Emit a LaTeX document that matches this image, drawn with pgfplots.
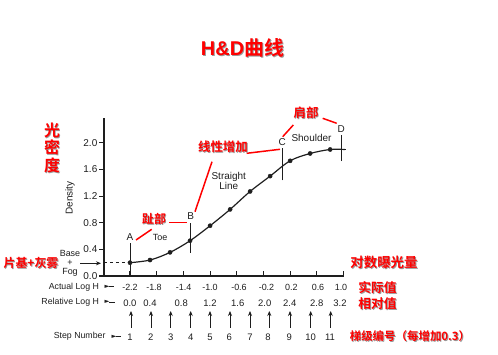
\documentclass[border=0pt]{standalone}
\usepackage{pgfplots}
\pgfplotsset{compat=1.18}
\usepackage{fontspec}
\usetikzlibrary{arrows.meta}
\setmainfont{Liberation Sans}
\newfontfamily\cjk{Noto Sans CJK SC}[BoldFont={Noto Sans CJK SC Bold}]
\newfontfamily\sym{DejaVu Sans}
\definecolor{ink}{HTML}{1E1E1E}
\definecolor{rd}{HTML}{FF0000}
\newcommand{\fs}[1]{\fontsize{#1}{#1}\selectfont}
% red label with soft shadow: #1 = position, #2 = size, #3 = text
\newcommand{\rl}[3]{%
  \node[font=\cjk\bfseries\fs{#2}, text=black!40, xshift=0.9bp, yshift=-1.1bp, inner sep=0pt] at #1 {#3};
  \node[font=\cjk\bfseries\fs{#2}, text=rd, inner sep=0pt] at #1 {#3};}
\begin{document}
\begin{tikzpicture}
\useasboundingbox (0,0) rectangle (498bp,355bp);
\begin{axis}[
  at={(104bp,79bp)}, anchor=south west,
  scale only axis, width=239.5bp, height=157.8bp,
  xmin=-0.39, xmax=3.2, ymin=0, ymax=2.37,
  axis lines=left,
  axis line style={ink, line width=1.4pt, -},
  clip=false,
  xtick={0,0.4,0.8,1.2,1.6,2.0,2.4,2.8,3.2},
  xticklabels={},
  xtick align=inside,
  ytick={0,0.4,0.8,1.2,1.6,2.0},
  ytick align=outside,
  major tick length=5bp,
  tick style={ink, line width=1.1pt},
  /pgf/number format/assume math mode=true,
  yticklabel style={font=\fs{10}, text=ink, /pgf/number format/fixed, /pgf/number format/fixed zerofill, /pgf/number format/precision=1, inner sep=1.5bp},
]
% H&D curve
\addplot[ink, line width=1.2pt, smooth, tension=0.55] coordinates {
  (0,0.20) (0.3,0.24) (0.6,0.355) (0.9,0.53) (1.2,0.755) (1.5,1.00)
  (1.8,1.27) (2.1,1.50) (2.4,1.73) (2.7,1.84) (3.0,1.90) (3.22,1.90)};
\addplot[only marks, mark=*, mark size=2.1bp, ink] coordinates {
  (0,0.20) (0.3,0.24) (0.6,0.355) (0.9,0.53) (1.2,0.755) (1.5,1.00)
  (1.8,1.27) (2.1,1.50) (2.4,1.73) (2.7,1.84) (3.0,1.90)};
% base+fog dashed line
\draw[ink, dashed, line width=1pt] (axis cs:-0.39,0.20) -- (axis cs:0,0.20);
% region markers
\draw[ink, line width=1pt] (axis cs:0,0) -- (axis cs:0,0.49);
\draw[ink, line width=1pt] (axis cs:0.91,0.35) -- (axis cs:0.91,0.79);
\draw[ink, line width=1pt] (axis cs:2.28,1.435) -- (axis cs:2.28,1.92);
\draw[ink, line width=1pt] (axis cs:3.165,1.725) -- (axis cs:3.165,2.115);
\draw[ink, line width=1pt] (axis cs:3.10,1.90) -- (axis cs:3.23,1.90);
\node[font=\fs{10}, text=ink] at (axis cs:0,0.58) {A};
\node[font=\fs{10}, text=ink] at (axis cs:0.91,0.90) {B};
\node[font=\fs{10}, text=ink] at (axis cs:2.28,2.01) {C};
\node[font=\fs{10}, text=ink] at (axis cs:3.165,2.20) {D};
\node[font=\fs{9}, text=ink] at (axis cs:0.45,0.58) {Toe};
\node[font=\fs{10}, text=ink, align=center] at (axis cs:1.48,1.43) {Straight\\Line};
\node[font=\fs{10}, text=ink] at (axis cs:2.72,2.07) {Shoulder};
\end{axis}
% ---------- pixel-coordinate overlay (origin top-left) ----------
\begin{scope}[x=1bp, y=-1bp, yshift=355bp]
% black annotations
\node[font=\fs{10}, text=ink, rotate=90] at (70,198) {Density};
\node[font=\fs{9}, text=ink, inner sep=0pt] at (70,253.5) {Base};
\node[font=\fs{9}, text=ink, inner sep=0pt] at (70,262.5) {+};
\node[font=\fs{9}, text=ink, inner sep=0pt] at (70,272) {Fog};
\draw[ink, line width=0.9pt, -{Stealth[length=5bp,width=4bp]}] (80,263.3) -- (101,263.3);
% x label rows
\node[font=\fs{8.8}, text=ink, anchor=east] at (102.5,287) {Actual Log H};
\node[font=\fs{8.8}, text=ink, anchor=east] at (102.5,302.5) {Relative Log H};
\node[font=\fs{8.8}, text=ink, anchor=east] at (109,336.7) {Step Number};
\node[font=\sym\fs{6.5}, text=ink, inner sep=0pt] at (107,286.7) {►};
\node[font=\sym\fs{6.5}, text=ink, inner sep=0pt] at (107,302.2) {►};
\node[font=\sym\fs{6.5}, text=ink, inner sep=0pt] at (114,336.4) {►};
\draw[ink, line width=0.6pt] (109,286.7) -- (114,286.7);
\draw[ink, line width=0.6pt] (109,302.2) -- (115,302.2);
\draw[ink, line width=0.6pt] (116,336.4) -- (121,336.4);
\foreach \x/\t in {130/-2.2, 154/-1.8, 183.7/-1.4, 210/-1.0, 239/-0.6, 266.5/-0.2, 291.3/0.2, 318/0.6, 341/1.0}
  \node[font=\fs{9}, text=ink] at (\x,287.5) {\t};
\foreach \x/\t in {129.9/0.0, 150/0.4, 181.3/0.8, 210/1.2, 237.7/1.6, 264.7/2.0, 289.7/2.4, 316.7/2.8, 340/3.2}
  \node[font=\fs{9.5}, text=ink] at (\x,303) {\t};
\foreach \x/\t in {130/1, 150.7/2, 170.7/3, 190.7/4, 210/5, 229.3/6, 250/7, 268/8, 289.3/9, 310.7/10, 330/11}
  \node[font=\fs{9.5}, text=ink] at (\x,337) {\t};
\foreach \x in {131, 151, 170.7, 190.7, 210, 230, 250, 269.3, 290, 310.7, 330.7}
  \draw[ink, line width=0.9pt, -{Stealth[length=5bp,width=4bp]}] (\x,328) -- (\x,311);
% red connector lines
\draw[rd, line width=1.5pt] (212,161.7) -- (195,211.7);
\draw[rd, line width=1.5pt] (246.7,153.3) -- (280,149.3);
\draw[rd, line width=1.5pt] (169.3,222.7) -- (187.3,222.7);
\draw[rd, line width=1.5pt] (136,240) -- (151.7,229.3);
\draw[rd, line width=1.5pt] (293.3,125) -- (282.7,136.7);
\draw[rd, line width=1.5pt] (322.7,118.3) -- (336.7,123.3);
% red labels
\node[font=\bfseries\fs{20}, text=black!40, xshift=1bp, yshift=-1.3bp, inner sep=0pt] at (242.5,47.7) {H\&D{\cjk\bfseries 曲线}};
\node[font=\bfseries\fs{20}, text=rd, inner sep=0pt] at (242.5,47.7) {H\&D{\cjk\bfseries 曲线}};
\rl{(52,130.7)}{16}{光}
\rl{(52,147.5)}{16}{密}
\rl{(52,165)}{16}{度}
\rl{(223,146.5)}{12.5}{线性增加}
\rl{(154,219)}{12}{趾部}
\rl{(306,113)}{12.5}{肩部}
\rl{(31,263.3)}{12}{片基+灰雾}
\rl{(384,262.7)}{13.5}{对数曝光量}
\rl{(377.5,287.3)}{12.8}{实际值}
\rl{(377.5,303.3)}{12.8}{相对值}
\rl{(410,335.7)}{11.5}{梯级编号（每增加0.3）}
\end{scope}
\end{tikzpicture}
\end{document}
